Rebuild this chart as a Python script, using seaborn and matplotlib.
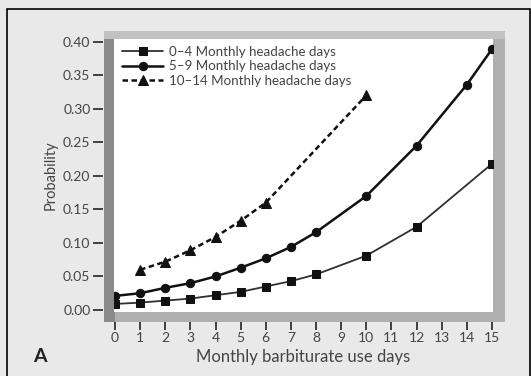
import numpy as np
import pandas as pd
import matplotlib
matplotlib.use("Agg")
import matplotlib.pyplot as plt
from matplotlib.patches import Rectangle
import seaborn as sns

# values
x_low = [0, 1, 2, 3, 4, 5, 6, 7, 8, 10, 12, 15]
p_low = [0.009, 0.011, 0.014, 0.017, 0.022, 0.027, 0.035, 0.043, 0.053, 0.081, 0.124, 0.218]

x_mid = [0, 1, 2, 3, 4, 5, 6, 7, 8, 10, 12, 14, 15]
p_mid = [0.021, 0.025, 0.033, 0.040, 0.050, 0.063, 0.077, 0.094, 0.116, 0.170, 0.245, 0.336, 0.389]

x_high = [1, 2, 3, 4, 5, 6, 10]
p_high = [0.060, 0.072, 0.089, 0.109, 0.133, 0.160, 0.320]

labels = ["0\u20134 Monthly headache days",
          "5\u20139 Monthly headache days",
          "10\u201314 Monthly headache days"]

xticks = list(range(16))
yticks = [0.00, 0.05, 0.10, 0.15, 0.20, 0.25, 0.30, 0.35, 0.40]

sns.set_theme(style="white")
plt.rcParams["font.family"] = ["Lato", "DejaVu Sans"]

W, H = 531, 376
fig = plt.figure(figsize=(W / 100, H / 100), dpi=100)
fig.patch.set_facecolor("#e9e9e9")

def px(x0, y0, x1, y1):
    # pixel box -> figure fraction (left, bottom, width, height)
    return [x0 / W, 1 - y1 / H, (x1 - x0) / W, (y1 - y0) / H]

# outer thin border
b = px(7, 9, 530, 380)
fig.patches.append(Rectangle((b[0], b[1]), b[2], b[3], transform=fig.transFigure,
                             fill=False, edgecolor="black", linewidth=1.2, zorder=0))
# bevelled grey frame behind the plotting area
f = px(104, 31, 505, 322)
fig.patches.append(Rectangle((f[0], f[1]), f[2], f[3], transform=fig.transFigure,
                             facecolor="#b0b0b0", edgecolor="none", zorder=1))
l = px(104, 31, 115, 322)
fig.patches.append(Rectangle((l[0], l[1]), l[2], l[3], transform=fig.transFigure,
                             facecolor="#8a8a8a", edgecolor="none", zorder=1))
t = px(104, 31, 505, 39)
fig.patches.append(Rectangle((t[0], t[1]), t[2], t[3], transform=fig.transFigure,
                             facecolor="#c2c2c2", edgecolor="none", zorder=1))

ax = fig.add_axes(px(114, 39, 493, 312))
ax.set_facecolor("white")
ax.set_zorder(2)

df_low = pd.DataFrame({"x": x_low, "p": p_low})
df_mid = pd.DataFrame({"x": x_mid, "p": p_mid})
df_high = pd.DataFrame({"x": x_high, "p": p_high})

sns.lineplot(data=df_low, x="x", y="p", ax=ax, color="#303030", linewidth=1.3,
             marker="s", markersize=6, markerfacecolor="#111111", markeredgecolor="#111111",
             label=labels[0])
sns.lineplot(data=df_mid, x="x", y="p", ax=ax, color="#111111", linewidth=1.8,
             marker="o", markersize=6, markerfacecolor="#111111", markeredgecolor="#111111",
             label=labels[1])
sns.lineplot(data=df_high, x="x", y="p", ax=ax, color="#111111", linewidth=1.8,
             linestyle=(0, (2.2, 1.4)), marker="^", markersize=7,
             markerfacecolor="#111111", markeredgecolor="#111111", label=labels[2])

ax.set_xlim(-0.04, 15.04)
ax.set_ylim(-0.003, 0.404)
ax.set_xticks(xticks)
ax.set_xticklabels([str(v) for v in xticks], family="DejaVu Sans")
ax.set_yticks(yticks)
ax.set_yticklabels([f"{v:.2f}" for v in yticks], family="DejaVu Sans")

for s in ax.spines.values():
    s.set_visible(False)
ax.spines["left"].set_position(("outward", 8))
ax.spines["bottom"].set_position(("outward", 7))
ax.tick_params(axis="y", left=True, direction="out", length=7.5, width=1.3,
               color="#333333", labelsize=10, labelcolor="#444444", pad=1.5)
ax.tick_params(axis="x", bottom=True, direction="out", length=5.5, width=1.3,
               color="#333333", labelsize=10, labelcolor="#444444", pad=2)

ax.set_xlabel("Monthly barbiturate use days", fontsize=12, color="#444444", va="center")
ax.xaxis.set_label_coords(0.5, (312 - 357) / 273)
ax.set_ylabel("Probability", fontsize=10.5, color="#444444", labelpad=4)

leg = ax.legend(loc="upper left", frameon=False, fontsize=9.6, handlelength=3.1,
                handletextpad=0.45, labelspacing=0.2, borderaxespad=0.2,
                bbox_to_anchor=(0.0, 1.005))
for txt in leg.get_texts():
    txt.set_color("#444444")

fig.text(33 / W, 1 - 356 / H, "A", fontsize=14, fontweight="bold", color="#222222",
         va="center", ha="left")

fig.savefig("out.png", dpi=100, facecolor=fig.get_facecolor())
